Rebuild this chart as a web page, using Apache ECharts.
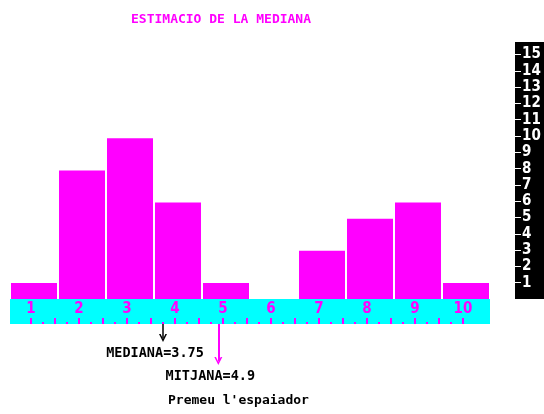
<!DOCTYPE html>
<html>
<head>
<meta charset="utf-8">
<script src="https://cdn.jsdelivr.net/npm/echarts@6/dist/echarts.min.js"></script>
<style>
html,body{margin:0;padding:0;background:#fff;}
#c{width:544px;height:414px;}
</style>
</head>
<body>
<div id="c"></div>
<script>
// ---- data ----
const categories = ['1','2','3','4','5','6','7','8','9','10'];
const frequencies = [1, 8, 10, 6, 1, 0, 3, 5, 6, 1];
const classValues = [1,2,3,4,5,6,7,8,9,10];
const scaleValues = [1,2,3,4,5,6,7,8,9,10,11,12,13,14,15];
const titleText = 'ESTIMACIO DE LA MEDIANA';
const footerText = "Premeu l'espaiador";

// median (interpolated) and mean from the frequency table
const total = frequencies.reduce((a, b) => a + b, 0);
let cum = 0, median = null;
for (let i = 0; i < frequencies.length; i++) {
  if (median === null && cum + frequencies[i] >= total / 2) {
    median = (classValues[i] - 0.5) + (total / 2 - cum) / frequencies[i];
  }
  cum += frequencies[i];
}
const mean = classValues.reduce((s, v, i) => s + v * frequencies[i], 0) / total;
const medianTxt = 'MEDIANA=' + (Math.round(median * 100) / 100);
const meanTxt = 'MITJANA=' + (Math.round(mean * 10) / 10);

const longTicks = [];
const shortTicks = [];
for (let v = 1; v <= 10.001; v += 0.25) {
  const r = Math.round(v * 100) / 100;
  if (Math.abs(r * 2 - Math.round(r * 2)) < 1e-6) longTicks.push(r); else shortTicks.push(r);
}

const MAG = '#ff00ff', CYAN = '#00ffff';
const MONO = "'DejaVu Sans Mono', 'Liberation Mono', monospace";
const NARROW = "'DejaVu Sans Condensed', 'Liberation Sans Narrow', 'DejaVu Sans Mono', monospace";
const chevron = 'path://M0,10 L5,0 L10,10 L8,10 L5,4 L2,10 Z';
const X0 = 0.5625, X1 = 10.5625;

const chart = echarts.init(document.getElementById('c'), null, {renderer: 'canvas'});
chart.setOption({
  animation: false,
  backgroundColor: '#ffffff',
  title: {
    text: titleText, left: 126, top: 8,
    textStyle: {color: MAG, fontFamily: MONO, fontSize: 13, fontWeight: 'bold'}
  },
  graphic: [{
    type: 'text', left: 168, top: 394,
    style: {text: footerText, fill: '#000', font: 'bold 13px ' + MONO}
  }],
  grid: [
    {left: 10, top: 58, width: 480, height: 241},
    {left: 10, top: 299, width: 480, height: 25, show: true, backgroundColor: CYAN, borderWidth: 0},
    {left: 515, top: 42, width: 29, height: 257, show: true, backgroundColor: '#000', borderWidth: 0},
    {left: 10, top: 324, width: 480, height: 60}
  ],
  xAxis: [
    {type: 'category', gridIndex: 0, data: categories, show: false},
    {type: 'value', gridIndex: 1, min: X0, max: X1, position: 'bottom',
      axisLine: {show: false}, splitLine: {show: false},
      axisTick: {show: true, inside: true, length: 6, customValues: longTicks, lineStyle: {color: MAG, width: 2}},
      axisLabel: {show: true, inside: true, margin: 15, customValues: classValues, color: MAG,
        fontFamily: NARROW, fontSize: 15, fontWeight: 'bold', verticalAlign: 'middle'}},
    {type: 'value', gridIndex: 1, min: X0, max: X1, position: 'bottom',
      axisLine: {show: false}, splitLine: {show: false},
      axisTick: {show: true, inside: true, length: 2, customValues: shortTicks, lineStyle: {color: MAG, width: 2}},
      axisLabel: {show: false}},
    {type: 'value', gridIndex: 3, min: X0, max: X1, show: false},
    {type: 'value', gridIndex: 2, min: 0, max: 1, show: false}
  ],
  yAxis: [
    {type: 'value', gridIndex: 0, min: 0, max: 15, show: false},
    {type: 'value', gridIndex: 1, min: 0, max: 1, show: false},
    {type: 'value', gridIndex: 2, min: 0, max: 15.77, position: 'left',
      axisLine: {show: false}, splitLine: {show: false},
      axisTick: {show: true, inside: true, length: 6, customValues: scaleValues, lineStyle: {color: '#fff', width: 1}},
      axisLabel: {show: true, inside: true, margin: 7, customValues: scaleValues, color: '#fff',
        fontFamily: NARROW, fontSize: 15, fontWeight: 'bold', align: 'left'}},
    {type: 'value', gridIndex: 3, min: 0, max: 60, inverse: true, show: false}
  ],
  series: [
    {type: 'bar', xAxisIndex: 0, yAxisIndex: 0, data: frequencies, barWidth: 46,
      itemStyle: {color: MAG, borderWidth: 0}, silent: true},
    {type: 'line', xAxisIndex: 3, yAxisIndex: 3, data: [], silent: true,
      markLine: {
        silent: true, animation: false,
        symbol: ['none', chevron], symbolSize: 8,
        label: {show: true, position: 'end', distance: 8, padding: [0, 16, 0, 0],
          fontFamily: MONO, fontSize: 13.5, fontWeight: 'bold', color: '#000'},
        data: [
          [{coord: [median, 0], lineStyle: {color: '#000', width: 1.5, type: 'solid'}, label: {formatter: medianTxt}},
           {coord: [median, 14]}],
          [{coord: [mean, 0], lineStyle: {color: MAG, width: 2, type: 'solid'}, label: {formatter: meanTxt}},
           {coord: [mean, 37]}]
        ]
      }}
  ]
});
</script>
</body>
</html>
